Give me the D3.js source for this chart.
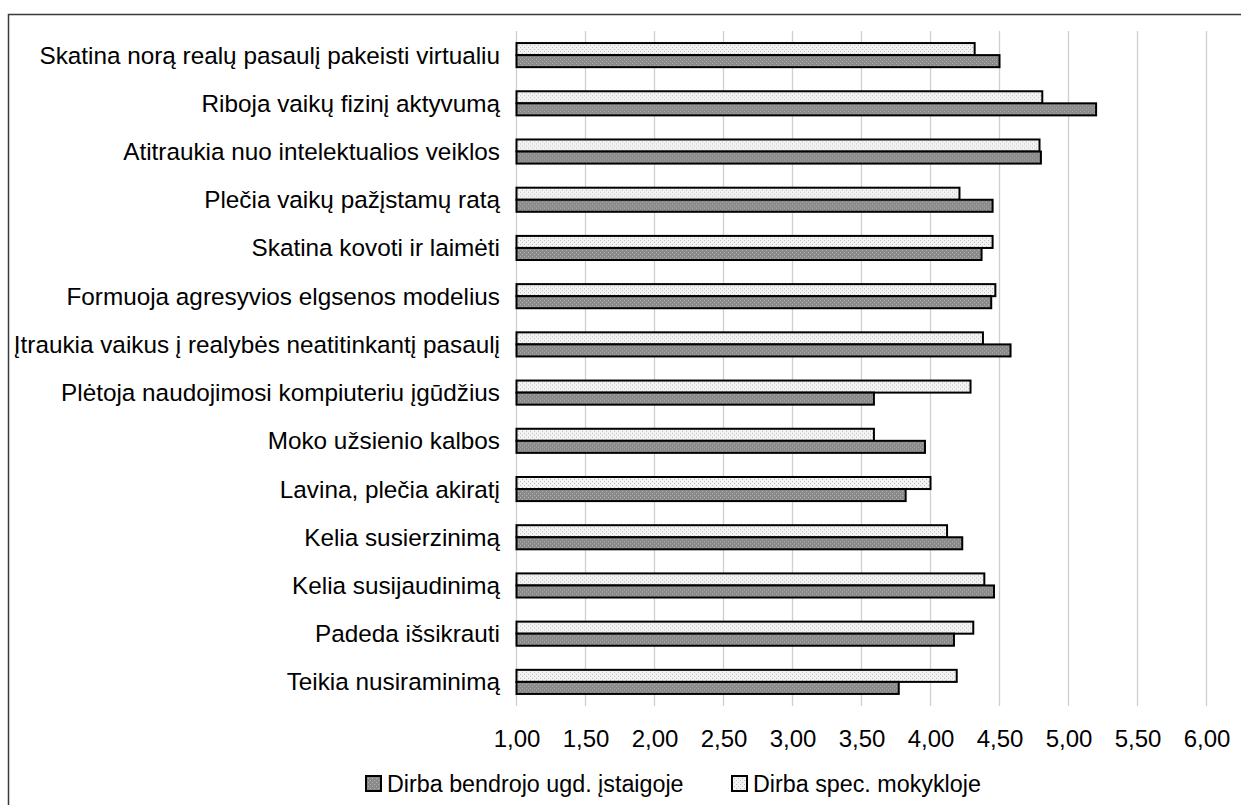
<!DOCTYPE html>
<html>
<head>
<meta charset="utf-8">
<script src="https://cdn.jsdelivr.net/npm/d3@7"></script>
<style>
  html, body { margin: 0; padding: 0; background: #fff; }
  svg { display: block; font-family: "Liberation Sans", Arial, sans-serif; }
</style>
</head>
<body>
<svg id="chart" width="1241" height="805"></svg>
<script>
// Statements about computer games, top to bottom
const categories = [
  "Skatina norą realų pasaulį pakeisti virtualiu",
  "Riboja vaikų fizinį aktyvumą",
  "Atitraukia nuo intelektualios veiklos",
  "Plečia vaikų pažįstamų ratą",
  "Skatina kovoti ir laimėti",
  "Formuoja agresyvios elgsenos modelius",
  "Įtraukia vaikus į realybės neatitinkantį pasaulį",
  "Plėtoja naudojimosi kompiuteriu įgūdžius",
  "Moko užsienio kalbos",
  "Lavina, plečia akiratį",
  "Kelia susierzinimą",
  "Kelia susijaudinimą",
  "Padeda išsikrauti",
  "Teikia nusiraminimą"
];

// Mean scores per group
const specValues    = [4.32, 4.81, 4.79, 4.21, 4.45, 4.47, 4.38, 4.29, 3.59, 4.00, 4.12, 4.39, 4.31, 4.19];
const generalValues = [4.50, 5.20, 4.80, 4.45, 4.37, 4.44, 4.58, 3.59, 3.96, 3.82, 4.23, 4.46, 4.17, 3.77];

const seriesNames = ["Dirba spec. mokykloje", "Dirba bendrojo ugd. įstaigoje"];
const legendOrder = ["Dirba bendrojo ugd. įstaigoje", "Dirba spec. mokykloje"];
const tickValues = [1.0, 1.5, 2.0, 2.5, 3.0, 3.5, 4.0, 4.5, 5.0, 5.5, 6.0];

const svg = d3.select("#chart");

// Dotted fills
const defs = svg.append("defs");
function dotPattern(id, bg, dot) {
  const p = defs.append("pattern")
    .attr("id", id).attr("patternUnits", "userSpaceOnUse")
    .attr("width", 4).attr("height", 4);
  p.append("rect").attr("width", 4).attr("height", 4).attr("fill", bg);
  p.append("rect").attr("x", 0).attr("y", 0).attr("width", 1).attr("height", 1).attr("fill", dot);
  p.append("rect").attr("x", 2).attr("y", 2).attr("width", 1).attr("height", 1).attr("fill", dot);
}
dotPattern("patLight", "#f3f3f3", "#bcbcbc");
dotPattern("patDark", "#8a8a8a", "#b4b4b4");
const fills = {
  "Dirba spec. mokykloje": "url(#patLight)",
  "Dirba bendrojo ugd. įstaigoje": "url(#patDark)"
};

// Outer frame
svg.append("rect")
  .attr("x", 8.5).attr("y", 14.5)
  .attr("width", 1245).attr("height", 800)
  .attr("fill", "none").attr("stroke", "#3a3a3a").attr("stroke-width", 1.5);

const plotTop = 31, plotBottom = 706;
const x = d3.scaleLinear().domain([1, 6]).range([516.5, 1206.5]);
const y = d3.scaleBand().domain(categories).range([plotTop, plotBottom])
  .paddingInner(0.5).paddingOuter(0.25);
const ySub = d3.scaleBand().domain(seriesNames).range([0, y.bandwidth()]);

// Vertical gridlines
svg.append("g")
  .selectAll("line")
  .data(tickValues)
  .join("line")
  .attr("x1", d => x(d)).attr("x2", d => x(d))
  .attr("y1", plotTop).attr("y2", plotBottom)
  .attr("stroke", "#d0d0d0").attr("stroke-width", 1.3);

// Tick labels
const fmt = d => d3.format(".2f")(d).replace(".", ",");
const xAxis = d3.axisBottom(x).tickValues(tickValues).tickFormat(fmt).tickSize(0).tickPadding(0);
const gx = svg.append("g").attr("transform", `translate(0, 730)`).call(xAxis);
gx.select(".domain").remove();
gx.selectAll("text")
  .attr("font-family", "Liberation Sans, Arial, sans-serif")
  .attr("font-size", 24).attr("fill", "#000");

// Category labels
svg.append("g")
  .selectAll("text")
  .data(categories)
  .join("text")
  .attr("x", 500)
  .attr("y", d => y(d) + y.bandwidth() / 2)
  .attr("dy", "0.35em")
  .attr("text-anchor", "end")
  .attr("font-size", 24.3)
  .attr("fill", "#000")
  .text(d => d);

// Bars
const rows = categories.map((c, i) => ({
  category: c,
  values: [
    { series: seriesNames[0], value: specValues[i] },
    { series: seriesNames[1], value: generalValues[i] }
  ]
}));

svg.append("g")
  .selectAll("g")
  .data(rows)
  .join("g")
  .attr("transform", d => `translate(0, ${y(d.category)})`)
  .selectAll("rect")
  .data(d => d.values)
  .join("rect")
  .attr("x", x(1))
  .attr("y", d => ySub(d.series))
  .attr("width", d => x(d.value) - x(1))
  .attr("height", ySub.bandwidth())
  .attr("fill", d => fills[d.series])
  .attr("stroke", "#000")
  .attr("stroke-width", 2);

// Legend
const legendX = [366, 732];
const lg = svg.append("g");
legendOrder.forEach((name, i) => {
  const g = lg.append("g").attr("transform", `translate(${legendX[i]}, 776)`);
  g.append("rect")
    .attr("x", 0).attr("y", 0).attr("width", 15).attr("height", 15)
    .attr("fill", fills[name]).attr("stroke", "#000").attr("stroke-width", 2);
  g.append("text")
    .attr("x", 21).attr("y", 7.5).attr("dy", "0.35em")
    .attr("font-size", 23.3).attr("fill", "#000")
    .text(name);
});
</script>
</body>
</html>
